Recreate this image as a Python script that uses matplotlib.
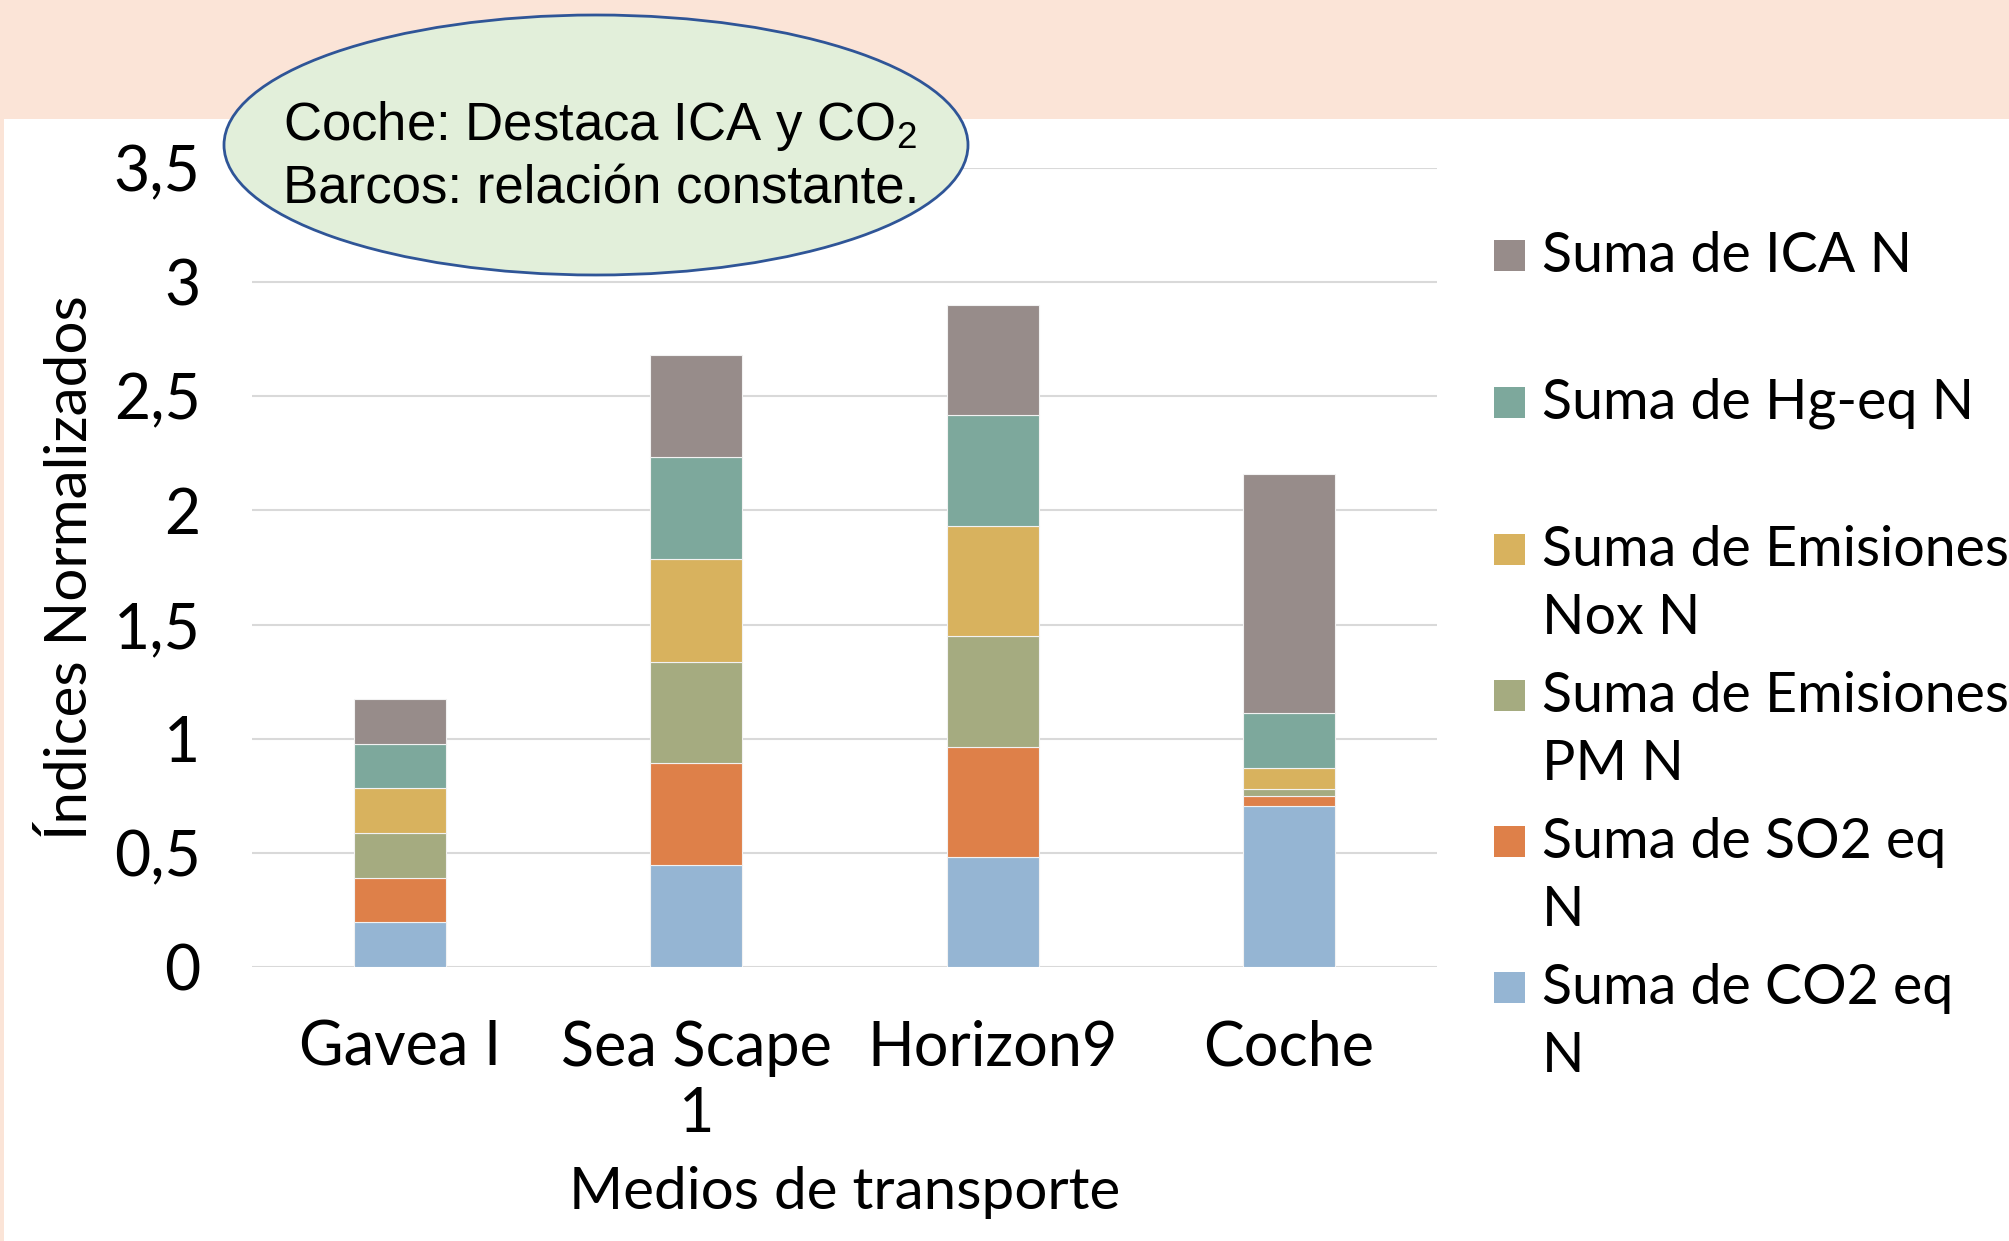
import matplotlib
matplotlib.use("Agg")
import matplotlib.pyplot as plt
from matplotlib.patches import Ellipse, Rectangle
import numpy as np

plt.rcParams['font.family'] = ['Lato', 'DejaVu Sans']
plt.rcParams['mathtext.fontset'] = 'custom'
plt.rcParams['mathtext.rm'] = 'Liberation Sans'

categories = ["Gavea I", "Sea Scape\n1", "Horizon9", "Coche"]
series_names = ["Suma de CO2 eq\nN", "Suma de SO2 eq\nN", "Suma de Emisiones\nPM N",
                "Suma de Emisiones\nNox N", "Suma de Hg-eq N", "Suma de ICA N"]
co2 = [0.195, 0.446, 0.482, 0.706]
so2 = [0.194, 0.447, 0.482, 0.043]
pm = [0.196, 0.445, 0.484, 0.031]
nox = [0.197, 0.449, 0.484, 0.092]
hg = [0.196, 0.447, 0.485, 0.239]
ica = [0.196, 0.447, 0.484, 1.047]
series_values = [co2, so2, pm, nox, hg, ica]
colors = ["#95B5D3", "#DE8049", "#A5AB80", "#D8B25E", "#7DA89C", "#978C8A"]
yticks = [0, 0.5, 1, 1.5, 2, 2.5, 3, 3.5]
ytick_labels = ["0", "0,5", "1", "1,5", "2", "2,5", "3", "3,5"]

W, H = 2009, 1241
fig = plt.figure(figsize=(W / 100, H / 100), dpi=100)

# background
bg = fig.add_axes([0, 0, 1, 1], zorder=0)
bg.set_xlim(0, W); bg.set_ylim(H, 0); bg.axis('off')
bg.add_patch(Rectangle((0, 0), W, 119, facecolor="#FBE4D7", edgecolor='none'))
bg.add_patch(Rectangle((0, 0), 4, H, facecolor="#FBE4D7", edgecolor='none'))

ax = fig.add_axes([252 / W, 1 - 967 / H, 1185 / W, 799 / H], zorder=1)
ax.patch.set_alpha(0)
x = np.arange(len(categories))
bottom = np.zeros(len(categories))
for vals, col in zip(series_values, colors):
    ax.bar(x, vals, 0.31, bottom=bottom, color=col, edgecolor='#F2F2F2', linewidth=0.8, zorder=2)
    bottom += np.array(vals)
ax.set_xlim(-0.5, 3.5)
ax.set_ylim(0, 3.5)
ax.set_yticks(yticks)
ax.set_yticklabels(ytick_labels)
ax.set_xticks(x)
ax.set_xticklabels(categories)
ax.yaxis.grid(True, color="#D9D9D9", linewidth=1.5, zorder=0)
ax.set_axisbelow(True)
for s in ax.spines.values():
    s.set_visible(False)
ax.tick_params(axis='both', length=0)
ax.tick_params(axis='y', labelsize=45, pad=37)
ax.tick_params(axis='x', labelsize=44, pad=38)
ax.set_ylabel("Índices Normalizados", fontsize=42)
ax.yaxis.set_label_coords(-0.154, 0.5)
ax.yaxis.label.set_va('center')
ax.set_xlabel("Medios de transporte", fontsize=42)
ax.xaxis.set_label_coords(0.5, -0.282)
ax.xaxis.label.set_va('center')

# overlay
ov = fig.add_axes([0, 0, 1, 1], zorder=3)
ov.set_xlim(0, W); ov.set_ylim(H, 0); ov.axis('off')
ov.patch.set_alpha(0)
ov.add_patch(Ellipse((596, 145), 744, 260, facecolor="#E2EFDA", edgecolor="#2F5597", linewidth=2))
ov.text(283, 126, r"Coche: Destaca ICA y CO$_\mathregular{2}$", fontsize=38,
        family="Liberation Sans", va='center', ha='left')
ov.text(283, 190, "Barcos: relación constante.", fontsize=38,
        family="Liberation Sans", va='center', ha='left')

# legend (top entry = last series)
entry_y = [256, 403, 550, 696, 842, 988]
for i, idx in enumerate(range(len(series_names) - 1, -1, -1)):
    yc = entry_y[i]
    ov.add_patch(Rectangle((1494, yc - 16), 31, 31, facecolor=colors[idx], edgecolor='none'))
    for k, line in enumerate(series_names[idx].split("\n")):
        ov.text(1542, yc + k * 69, line, fontsize=40, va='center', ha='left')

fig.savefig("out.png", dpi=100)
